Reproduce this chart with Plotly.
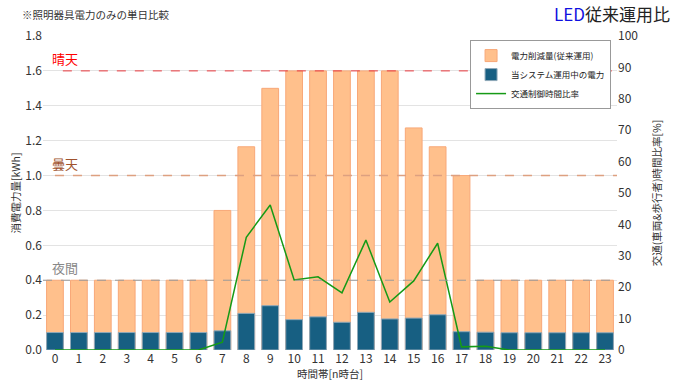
import plotly.graph_objects as go

hours = list(range(24))
hour_labels = [str(h) for h in hours]
conventional = [0.4, 0.4, 0.4, 0.4, 0.4, 0.4, 0.4, 0.8, 1.165, 1.5, 1.6, 1.6, 1.6, 1.6, 1.6,
                1.273, 1.165, 1.0, 0.4, 0.4, 0.4, 0.4, 0.4, 0.4]
system_power = [0.1, 0.1, 0.1, 0.1, 0.1, 0.1, 0.1, 0.11, 0.21, 0.254, 0.174, 0.19, 0.159, 0.216,
                0.178, 0.183, 0.202, 0.105, 0.102, 0.099, 0.099, 0.099, 0.099, 0.099]
traffic_ratio = [0, 0, 0, 0, 0, 0, 0, 2.5, 35.9, 46.2, 22.3, 23.3, 18.2, 35.0, 15.3, 22.0, 34.0,
                 1.0, 1.2, 0, 0, 0, 0, 0]
ref_levels = [1.6, 1.0, 0.4]
ref_labels = ["晴天", "曇天", "夜間"]

FONT = "Noto Sans CJK JP, Noto Sans, sans-serif"

fig = go.Figure()
fig.add_trace(go.Bar(
    x=hours, y=conventional, name="電力削減量(従来運用)", width=0.7,
    marker=dict(color="#FFC08C", line=dict(color="#F8A878", width=1)),
))
fig.add_trace(go.Bar(
    x=hours, y=system_power, name="当システム運用中の電力", width=0.7,
    marker=dict(color="#175F82", line=dict(color="#8FA8B8", width=1)),
))
fig.add_trace(go.Scatter(
    x=hours, y=traffic_ratio, name="交通制御時間比率", yaxis="y2", mode="lines",
    line=dict(color="#169A16", width=1.5),
))

# reference lines
fig.add_shape(type="line", xref="x", yref="y", x0=0.33, x1=23.5, y0=ref_levels[0], y1=ref_levels[0],
              line=dict(color="#E8383D", width=1, dash="dash"))
fig.add_shape(type="line", xref="x", yref="y", x0=0, x1=23.5, y0=ref_levels[1], y1=ref_levels[1],
              line=dict(color="#DDA080", width=1.5, dash="dash"))
fig.add_shape(type="line", xref="x", yref="y", x0=-0.5, x1=23.5, y0=ref_levels[2], y1=ref_levels[2],
              line=dict(color="#999999", width=1, dash="dash"))

label_colors = ["#FF0000", "#A0522D", "#888888"]
for lvl, txt, col in zip(ref_levels, ref_labels, label_colors):
    fig.add_annotation(x=-0.2, y=lvl, xref="x", yref="y", text=txt, showarrow=False,
                       xanchor="left", yanchor="bottom", yshift=1,
                       font=dict(size=13, color=col, family=FONT))

fig.add_annotation(x=-0.04, y=1.068, xref="paper", yref="paper", text="※照明器具電力のみの単日比較",
                   showarrow=False, xanchor="left", yanchor="middle",
                   font=dict(size=10.5, color="#333333", family=FONT))
fig.add_annotation(x=1.096, y=1.072, xref="paper", yref="paper",
                   text="<span style='color:#1010E0'>LED</span>従来運用比",
                   showarrow=False, xanchor="right", yanchor="middle",
                   font=dict(size=17, color="#222222", family=FONT))

fig.update_layout(
    width=676, height=388,
    margin=dict(l=43, r=59, t=36, b=38, autoexpand=False),
    barmode="overlay",
    plot_bgcolor="white", paper_bgcolor="white",
    font=dict(family=FONT, size=12, color="#333333"),
    showlegend=True,
    legend=dict(x=0.744, y=0.987, xanchor="left", yanchor="top",
                bordercolor="#999999", borderwidth=1, bgcolor="white",
                font=dict(size=8.5, color="#222222", family=FONT),
                tracegroupgap=0, itemwidth=30),
    xaxis=dict(range=[-0.5, 23.5], tickmode="array", tickvals=hours, ticktext=hour_labels,
               showgrid=False, zeroline=False, showline=False, ticks="", automargin=False,
               title=dict(text="時間帯[n時台]", font=dict(size=10.5), standoff=4),
               tickfont=dict(size=12)),
    yaxis=dict(range=[0, 1.8], dtick=0.2, tickformat=".1f", showgrid=True, gridcolor="#E3E3E3",
               gridwidth=1, zeroline=False, showline=False, ticks="", automargin=False,
               title=dict(text="消費電力量[kWh]", font=dict(size=10.5), standoff=2),
               tickfont=dict(size=12)),
    yaxis2=dict(range=[0, 100], dtick=10, overlaying="y", side="right", showgrid=False,
                zeroline=False, showline=False, ticks="", automargin=False,
                title=dict(text="交通(車両&歩行者)時間比率[%]", font=dict(size=10.5), standoff=16),
                tickfont=dict(size=12)),
)

fig.write_html("out.html", config={"displayModeBar": False},
               post_script="document.body.style.margin='0';")
